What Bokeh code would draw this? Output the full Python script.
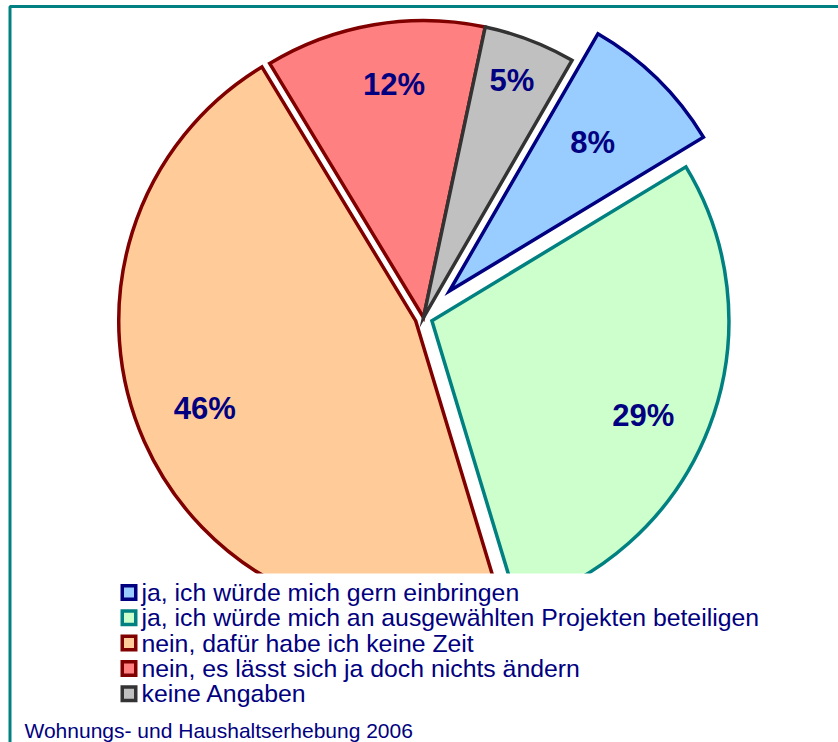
import math
from bokeh.plotting import figure
from bokeh.models import ColumnDataSource, Range1d, Label
from bokeh.core.properties import value
from bokeh.embed import file_html
from bokeh.resources import INLINE

# ---- data ----
categories = [
    "ja, ich würde mich gern einbringen",
    "ja, ich würde mich an ausgewählten Projekten beteiligen",
    "nein, dafür habe ich keine Zeit",
    "nein, es lässt sich ja doch nichts ändern",
    "keine Angaben",
]
shares = [8, 29, 46, 12, 5]
share_labels = ["8%", "29%", "46%", "12%", "5%"]
footer_text = "Wohnungs- und Haushaltserhebung 2006"

# ---- styles / layout ----
fills = ["#99CCFF", "#CCFFCC", "#FFCC99", "#FF8080", "#C0C0C0"]
edges = ["#000080", "#008080", "#800000", "#800000", "#333333"]
explode_px = [37, 9, 8.5, 0, 0]
label_frac = [0.69, 0.78, 0.77, 0.795, 0.85]
label_nudge = [(0, 2), (-5, -12), (-2, 5), (10, 0), (-2, 1)]   # px (x right, y up)
START_DEG = 30.0          # clockwise from 12 o'clock
W, H = 838, 742
CX, CY, R = 423.0, H - 317.0, 297.0
NAVY = "#000080"
TEAL = "#008080"
FONT = "Liberation Sans"
# legend layout (screen px from top-left)
LEG_TOP, LEG_BOTTOM, LEG_LEFT, LEG_RIGHT = 573, 712, 112, 775
LEG_ROW0, LEG_PITCH = 592.0, 25.3
LEG_BOX_X, LEG_BOX = 128.5, 13.5
LEG_TEXT_X = 141

total = float(sum(shares))
xs, ys, st, en, lx, ly = [], [], [], [], [], []
cum = START_DEG
for s, ex, f, (nx, ny) in zip(shares, explode_px, label_frac, label_nudge):
    a0 = cum
    a1 = cum + s / total * 360.0
    cum = a1
    mid = math.radians((a0 + a1) / 2.0)
    x = CX + ex * math.sin(mid)
    y = CY + ex * math.cos(mid)
    xs.append(x)
    ys.append(y)
    st.append(math.radians(90.0 - a1))
    en.append(math.radians(90.0 - a0))
    lx.append(x + f * R * math.sin(mid) + nx)
    ly.append(y + f * R * math.cos(mid) + ny)

src = ColumnDataSource(dict(x=xs, y=ys, start=st, end=en, fill=fills, edge=edges,
                            lx=lx, ly=ly, label=share_labels, cat=categories))

leg_src = ColumnDataSource(dict(
    bx=[LEG_BOX_X] * len(categories),
    tx=[LEG_TEXT_X] * len(categories),
    y=[H - (LEG_ROW0 + i * LEG_PITCH) for i in range(len(categories))],
    cat=categories, fill=fills, edge=edges))

p = figure(width=W, height=H, output_backend="svg", toolbar_location=None,
           x_range=Range1d(0, W), y_range=Range1d(0, H),
           min_border=0, min_border_left=0, min_border_right=0,
           min_border_top=0, min_border_bottom=0,
           background_fill_color="white", border_fill_color="white")
p.axis.visible = False
p.grid.visible = False
p.outline_line_color = None

p.wedge(x="x", y="y", radius=R, start_angle="start", end_angle="end",
        fill_color="fill", line_color="edge", line_width=3.5, line_join="miter",
        source=src)

p.text(x="lx", y="ly", text="label", source=src,
       text_font=value(FONT), text_font_style="bold", text_font_size="31px",
       text_color=NAVY, text_align="center", text_baseline="middle")

# legend box (white, hides the lower part of the pie)
p.quad(left=LEG_LEFT, right=LEG_RIGHT, top=H - LEG_TOP, bottom=H - LEG_BOTTOM,
       fill_color="white", line_color=None)
p.rect(x="bx", y="y", width=LEG_BOX, height=LEG_BOX, source=leg_src,
       fill_color="fill", line_color="edge", line_width=3.5, line_join="miter")
p.text(x="tx", y="y", text="cat", source=leg_src,
       text_font=value(FONT), text_font_size="24.8px", text_color=NAVY,
       text_align="left", text_baseline="middle")

# frame border (only top and left edges fall inside the picture)
p.quad(left=9.5, right=W + 60, top=H - 6, bottom=-60,
       fill_color=None, line_color=TEAL, line_width=3)

p.add_layout(Label(x=24, y=H - 730, text=footer_text, text_font=FONT,
                   text_font_size="21px", text_color=NAVY, text_baseline="middle"))

open("out.html", "w").write(file_html(p, INLINE))
